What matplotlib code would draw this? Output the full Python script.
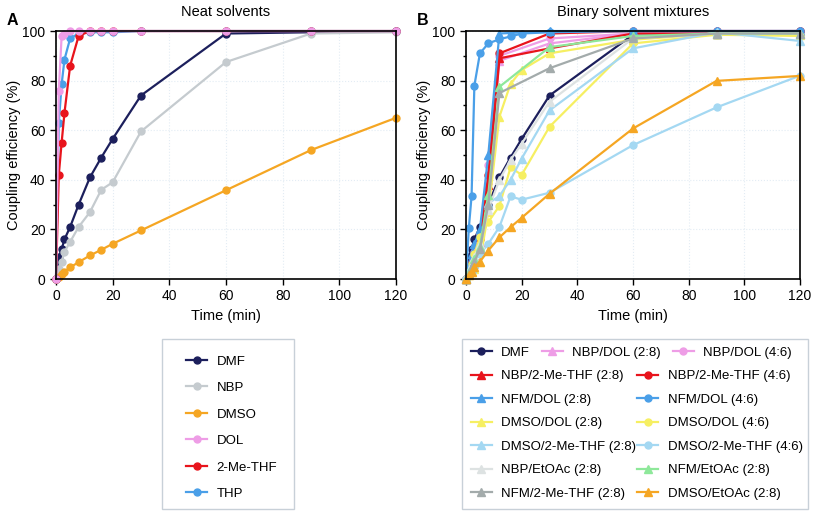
import matplotlib
matplotlib.use("Agg")
import matplotlib.pyplot as plt
from matplotlib.patches import Rectangle
from matplotlib.ticker import MultipleLocator

plt.rcParams['font.family'] = ['Liberation Sans', 'DejaVu Sans']

# sampling times (min)
T_FULL = [0, 1, 2, 3, 5, 8, 12, 16, 20, 30, 60, 90, 120]
T_FAST = [0, 1, 2, 3, 5, 8, 12, 30, 60, 90, 120]

# A: neat solvents
dmf = [0, 9, 12, 16, 21, 30, 41, 49, 56.5, 74, 99, 99.5, 100]
nbp = [0, 4, 7, 11, 15, 21, 27, 36, 39, 59.5, 87.5, 99, 99.5]
dmso = [0, 1, 2, 3, 4.7, 6.8, 9.5, 11.8, 14.2, 19.6, 35.8, 52, 65]
dol = [0, 76, 98, 99, 100, 100, 100, 100, 100, 100, 100, 100, 100]
mthf = [0, 42, 55, 67, 86, 98, 100, 100, 100, 100, 100, 100, 100]
thp = [0, 63, 78.5, 88.5, 97, 99, 99.5, 99.5, 99.5, 100, 100, 100, 100]

# B: binary mixtures (fast series sampled on T_FAST)
nbp_dol_28 = [0, 3, 6, 9, 15, 40, 88, 95, 99, 99.5, 99.5]
nbp_dol_46 = [0, 4, 7, 11, 18, 46, 90, 97, 99, 100, 100]
nbp_mthf_28 = [0, 3, 6, 9, 14, 38, 89, 93, 99, 99, 99]
nbp_mthf_46 = [0, 4, 7, 10, 16, 42, 91, 99, 100, 100, 100]
nfm_dol_28 = [0, 5, 10, 14, 20, 50, 99, 100, 100, 100, 100]
nfm_etoac_28 = [0, 3, 5, 8, 13, 34, 77.5, 93.5, 98, 99, 99]
nfm_mthf_28 = [0, 2, 5, 7, 12, 30, 75, 85, 97, 99, 99]

# B: series sampled on T_FULL
dmf_b = [0, 9, 12, 16, 21, 30, 41, 49, 56.5, 74, 98.5, 99.5, 100]
nfm_dol_46 = [0, 20.5, 33.5, 78, 91, 95, 96.7, 97.8, 99, 99.5, 100, 100, 100]
dmso_dol_28 = [0, 1.5, 3, 4, 7, 27, 65.5, 78.7, 84.3, 91, 96.5, 99, 98.5]
dmso_dol_46 = [0, 3, 6, 10, 17, 23, 29.5, 45, 42, 61.4, 95, 98.5, 98]
dmso_mthf_28 = [0, 2, 4, 6, 12, 30.5, 33.5, 40, 48.6, 68, 93, 99.5, 96]
dmso_mthf_46 = [0, 3, 5, 7, 10, 14.2, 21, 33.3, 32, 34.8, 54, 69.2, 82]
nbp_etoac_28 = [0, 3, 6, 9, 14, 28, 40, 48, 54.6, 71.5, 97, 99, 99]
dmso_etoac_28 = [0, 1.5, 3, 4.7, 7, 11.5, 16.8, 20.9, 24.7, 34.4, 60.7, 79.9, 81.9]

NAVY = '#1c1f5c'
LGRAY = '#c5cbcf'
ORANGE = '#f5a623'
PINK = '#ee9de6'
RED = '#e8141c'
BLUE = '#4a9fe8'
YELLOW = '#f6ef62'
LBLUE = '#a4d8f2'
VLGRAY = '#dde2e2'
GREEN = '#8ee89a'
GRAY = '#a3abab'

FS = 10


def line(ax, t, y, color, marker, label):
    ms = 6 if marker == '^' else 5
    ax.plot(t, y, color=color, marker=marker, ms=ms, lw=1.6, label=label,
            clip_on=False)


def style(ax, title):
    ax.set_xlim(0, 120)
    ax.set_ylim(0, 100)
    ax.xaxis.set_major_locator(MultipleLocator(20))
    ax.yaxis.set_major_locator(MultipleLocator(20))
    ax.yaxis.set_minor_locator(MultipleLocator(10))
    ax.tick_params(which='major', direction='out', length=4, width=1, labelsize=FS)
    ax.tick_params(which='minor', direction='out', length=2.5, width=1)
    ax.grid(True, which='major', color='#e3ecf4', lw=0.8, ls=':')
    ax.set_axisbelow(True)
    for s in ax.spines.values():
        s.set_linewidth(1.2)
    ax.set_xlabel('Time (min)', fontsize=10.5)
    ax.set_ylabel('Coupling efficiency (%)', fontsize=10.5, labelpad=1)
    ax.set_title(title, fontsize=10.5, pad=11)


fig = plt.figure(figsize=(8.17, 5.12), dpi=100)
axA = fig.add_axes([0.0685, 0.455, 0.4162, 0.4844])
axB = fig.add_axes([0.5704, 0.455, 0.4088, 0.4844])

line(axA, T_FULL, dmf, NAVY, 'o', 'DMF')
line(axA, T_FULL, nbp, LGRAY, 'o', 'NBP')
line(axA, T_FULL, dmso, ORANGE, 'o', 'DMSO')
line(axA, T_FULL, thp, BLUE, 'o', 'THP')
line(axA, T_FULL, mthf, RED, 'o', '2-Me-THF')
line(axA, T_FULL, dol, PINK, 'o', 'DOL')
style(axA, 'Neat solvents')

line(axB, T_FULL, dmf_b, NAVY, 'o', 'DMF')
line(axB, T_FAST, nbp_dol_28, PINK, '^', 'NBP/DOL (2:8)')
line(axB, T_FAST, nbp_dol_46, PINK, 'o', 'NBP/DOL (4:6)')
line(axB, T_FAST, nbp_mthf_28, RED, '^', 'NBP/2-Me-THF (2:8)')
line(axB, T_FAST, nbp_mthf_46, RED, 'o', 'NBP/2-Me-THF (4:6)')
line(axB, T_FAST, nfm_dol_28, BLUE, '^', 'NFM/DOL (2:8)')
line(axB, T_FULL, nfm_dol_46, BLUE, 'o', 'NFM/DOL (4:6)')
line(axB, T_FULL, dmso_dol_28, YELLOW, '^', 'DMSO/DOL (2:8)')
line(axB, T_FULL, dmso_dol_46, YELLOW, 'o', 'DMSO/DOL (4:6)')
line(axB, T_FULL, dmso_mthf_28, LBLUE, '^', 'DMSO/2-Me-THF (2:8)')
line(axB, T_FULL, dmso_mthf_46, LBLUE, 'o', 'DMSO/2-Me-THF (4:6)')
line(axB, T_FULL, nbp_etoac_28, VLGRAY, '^', 'NBP/EtOAc (2:8)')
line(axB, T_FAST, nfm_etoac_28, GREEN, '^', 'NFM/EtOAc (2:8)')
line(axB, T_FAST, nfm_mthf_28, GRAY, '^', 'NFM/2-Me-THF (2:8)')
line(axB, T_FULL, dmso_etoac_28, ORANGE, '^', 'DMSO/EtOAc (2:8)')
style(axB, 'Binary solvent mixtures')

fig.text(0.008, 0.975, 'A', fontsize=11.5, fontweight='bold', va='top')
fig.text(0.51, 0.975, 'B', fontsize=11.5, fontweight='bold', va='top')

# legend A
hA, lA = axA.get_legend_handles_labels()
orderA = ['DMF', 'NBP', 'DMSO', 'DOL', '2-Me-THF', 'THP']
hA = [hA[lA.index(k)] for k in orderA]
fig.legend(hA, orderA, loc='upper left', bbox_to_anchor=(0.228, 0.306),
           frameon=False, fontsize=9.5, handlelength=1.6, handletextpad=0.7,
           labelspacing=1.08, borderpad=0, borderaxespad=0)
fig.patches.append(Rectangle((0.1983, 0.006), 0.1616, 0.332, transform=fig.transFigure,
                             fill=False, ec='#c8d0d8', lw=1))

# legend B: first row of three, then two columns
hB, lB = axB.get_legend_handles_labels()
top = ['DMF', 'NBP/DOL (2:8)', 'NBP/DOL (4:6)']
left = ['NBP/2-Me-THF (2:8)', 'NFM/DOL (2:8)', 'DMSO/DOL (2:8)',
        'DMSO/2-Me-THF (2:8)', 'NBP/EtOAc (2:8)', 'NFM/2-Me-THF (2:8)']
right = ['NBP/2-Me-THF (4:6)', 'NFM/DOL (4:6)', 'DMSO/DOL (4:6)',
         'DMSO/2-Me-THF (4:6)', 'NFM/EtOAc (2:8)', 'DMSO/EtOAc (2:8)']
fig.legend([hB[lB.index(k)] for k in top], top, loc='upper left',
           bbox_to_anchor=(0.576, 0.323), ncol=3, frameon=False, fontsize=9.5,
           handlelength=1.6, handletextpad=0.7, columnspacing=0.9,
           borderpad=0, borderaxespad=0)
fig.legend([hB[lB.index(k)] for k in left + right], left + right, loc='upper left',
           bbox_to_anchor=(0.576, 0.277), ncol=2, frameon=False, fontsize=9.5,
           handlelength=1.6, handletextpad=0.7, columnspacing=0.1,
           labelspacing=0.85, borderpad=0, borderaxespad=0)
fig.patches.append(Rectangle((0.5655, 0.006), 0.4235, 0.332, transform=fig.transFigure,
                             fill=False, ec='#c8d0d8', lw=1))

fig.savefig('out.png', dpi=100)
